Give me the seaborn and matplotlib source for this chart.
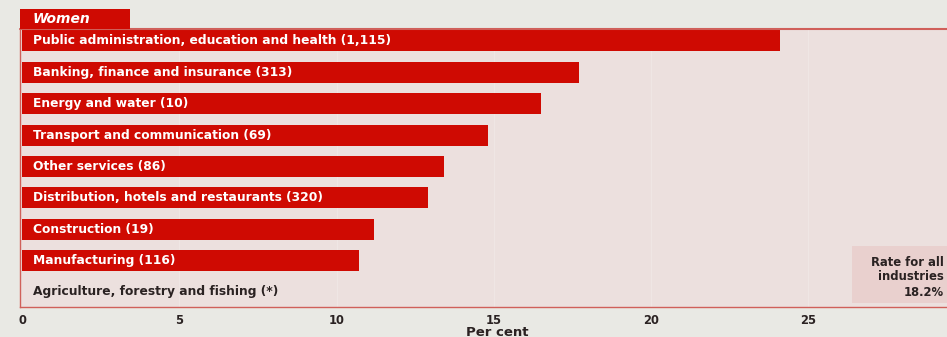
import numpy as np
import pandas as pd
import matplotlib
matplotlib.use("Agg")
import matplotlib.pyplot as plt
from matplotlib.patches import Rectangle
import seaborn as sns

# Rates by industry (per cent); employee counts in thousands shown in labels
industries = [
    "Public administration, education and health",
    "Banking, finance and insurance",
    "Energy and water",
    "Transport and communication",
    "Other services",
    "Distribution, hotels and restaurants",
    "Construction",
    "Manufacturing",
    "Agriculture, forestry and fishing",
]
counts = ["1,115", "313", "10", "69", "86", "320", "19", "116", "*"]
rates = [24.1, 17.7, 16.5, 14.8, 13.4, 12.9, 11.2, 10.7, np.nan]
all_industries_rate = "18.2%"
x_ticks = [0, 5, 10, 15, 20, 25, 30]
panel_title = "Women"
x_label = "Per cent"

RED = "#cf0a02"
PANEL = "#ece0de"
PAGE = "#e9e9e4"
DARK = "#2a2222"

sns.set_theme(style="white")
plt.rcParams["font.family"] = ["DejaVu Sans"]

df = pd.DataFrame({"industry": industries, "rate": rates})

W, H = 947, 337
fig = plt.figure(figsize=(W / 100, H / 100), dpi=100, facecolor=PAGE)

# axes in pixel terms: left edge 20px, spans past the right edge of the page
x0_px, px_per_unit = 22.0, 31.46
left_px, right_px = 20.0, 975.0
top_px, bot_px = 29.0, 307.0
ax = fig.add_axes([left_px / W, 1 - bot_px / H, (right_px - left_px) / W, (bot_px - top_px) / H])
ax.set_facecolor(PANEL)

sns.barplot(data=df.dropna(), x="rate", y="industry", order=industries,
            color=RED, width=0.67, saturation=1, orient="h", ax=ax,
            edgecolor="none", linewidth=0)

ax.set_xlim((left_px - x0_px) / px_per_unit, (right_px - x0_px) / px_per_unit)
ax.set_ylim(8.48, -0.38)

# faint vertical guides
for t in x_ticks[1:]:
    ax.axvline(t, color="white", lw=0.8, alpha=0.2, zorder=0)

# labels inside the bars
lx = (33 - x0_px) / px_per_unit
for i, (name, c, r) in enumerate(zip(industries, counts, rates)):
    col = "white" if not np.isnan(r) else DARK
    ax.text(lx, i, f"{name} ({c})", color=col, fontsize=8.8, fontweight="bold",
            va="center", ha="left")

for s in ["top", "right"]:
    ax.spines[s].set_visible(False)
for s in ["left", "bottom"]:
    ax.spines[s].set_color("#d0605a")
    ax.spines[s].set_linewidth(1.0)
ax.axhline(-0.38, color="#d0605a", lw=1.5, clip_on=False)

ax.set_yticks([])
ax.set_ylabel("")
ax.set_xticks(x_ticks)
ax.set_xticklabels([str(t) for t in x_ticks], fontsize=8.3, fontweight="bold", color=DARK)
ax.tick_params(axis="x", length=0, pad=5)
ax.set_xlabel(x_label, fontsize=9.5, fontweight="bold", color=DARK, labelpad=-1)

# "all industries" note box
fig.patches.append(Rectangle((852 / W, 1 - 303 / H), (W - 852) / W, (303 - 246) / H,
                             transform=fig.transFigure, facecolor="#e9cdcb",
                             edgecolor="none", alpha=0.8, zorder=3))
fig.text(944 / W, 1 - 277 / H, f"Rate for all\nindustries\n{all_industries_rate}",
         ha="right", va="center", fontsize=8.4, fontweight="bold", color=DARK,
         linespacing=1.2, zorder=4)

# panel title tab
fig.patches.append(Rectangle((20 / W, 1 - 29 / H), 110 / W, 20 / H,
                             transform=fig.transFigure, facecolor=RED,
                             edgecolor="none", zorder=3))
fig.text(33 / W, 1 - 19 / H, panel_title, ha="left", va="center", fontsize=10,
         fontweight="bold", fontstyle="italic", color="white", zorder=4)

fig.savefig("out.png", dpi=100, facecolor=PAGE)
